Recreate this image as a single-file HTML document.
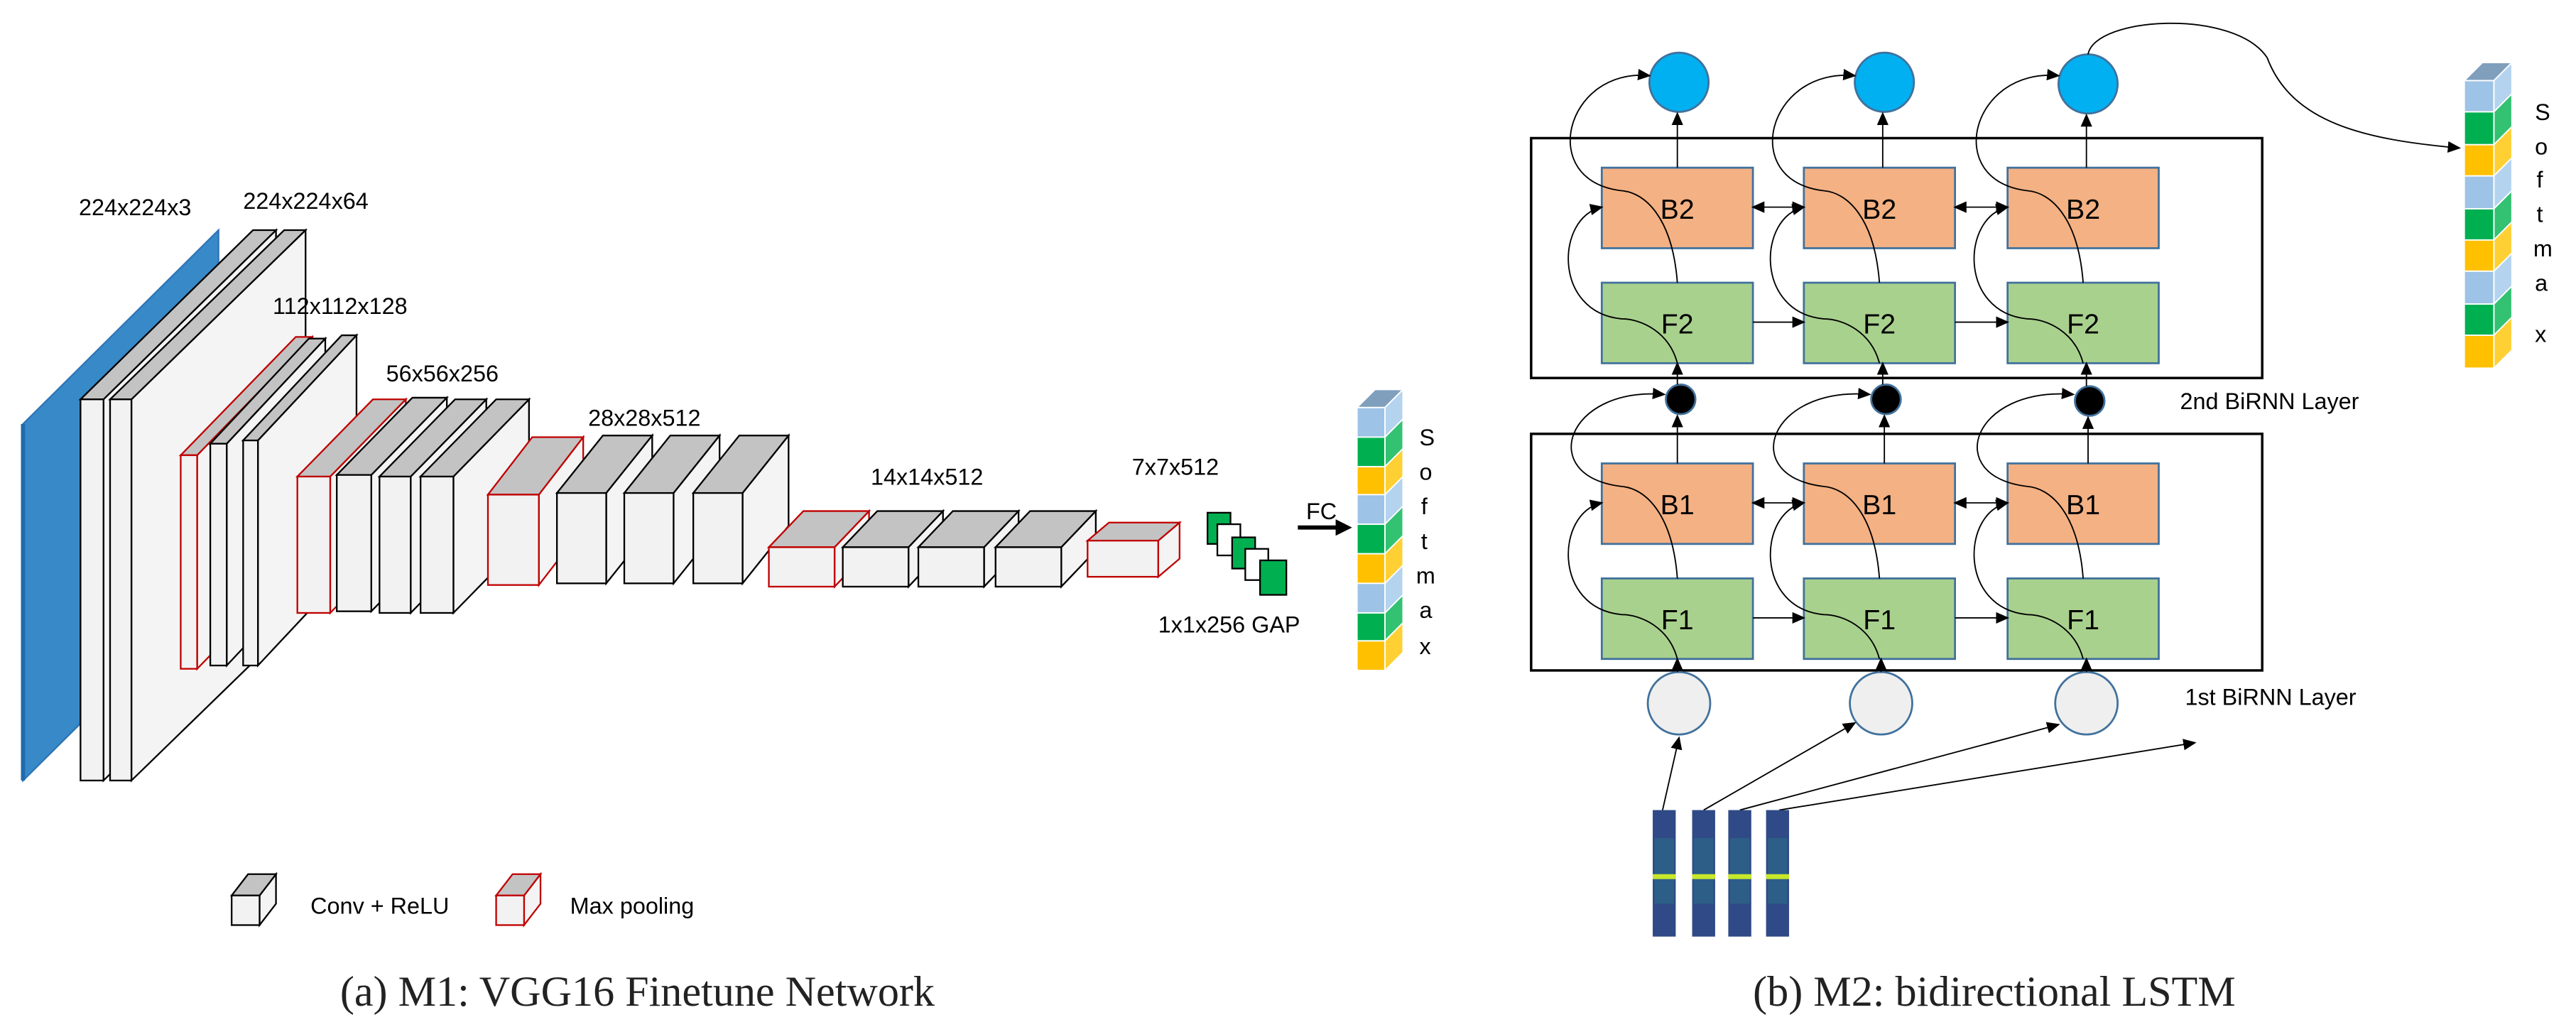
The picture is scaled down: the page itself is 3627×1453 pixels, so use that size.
<!DOCTYPE html>
<html><head><meta charset="utf-8"><style>
html,body{margin:0;padding:0;background:#fff;}
svg{display:block;}
text{font-family:"Liberation Sans",sans-serif;}
</style></head><body>
<svg width="3627" height="1453" viewBox="0 0 1568 628" xmlns="http://www.w3.org/2000/svg">
<defs>
<marker id="ar" markerWidth="8" markerHeight="8" refX="7" refY="4" orient="auto-start-reverse" markerUnits="userSpaceOnUse"><path d="M0,0.5 L8,4 L0,7.5 z" fill="#000"/></marker>
</defs>
<!-- blue slab -->
<polygon points="14,258 133,140 133,357 14,475" fill="#3889c8" stroke="#2e75b6" stroke-width="1"/>
<line x1="14" y1="258" x2="14" y2="475" stroke="#1f6aad" stroke-width="2.5"/>

<g stroke="#000" stroke-width="1">
<!-- 224 slabs -->
<polygon points="63,243 168,140 168,372 63,475" fill="#f4f4f4"/>
<polygon points="49,243 154,140 168,140 63,243" fill="#c3c3c3"/>
<rect x="49" y="243" width="14" height="232" fill="#f2f2f2"/>
<polygon points="80,243 186,140 186,372 80,475" fill="#f4f4f4"/>
<polygon points="67,243 173,140 186,140 80,243" fill="#c3c3c3"/>
<rect x="67" y="243" width="13" height="232" fill="#f2f2f2"/>
</g>
<g stroke="#c00000" stroke-width="1">
<polygon points="120,277 190,205 190,335 120,407" fill="#f4f4f4"/>
<polygon points="110,277 180,205 190,205 120,277" fill="#c3c3c3"/>
<rect x="110" y="277" width="10" height="130" fill="#f2f2f2"/>
</g>
<g stroke="#000" stroke-width="1">
<polygon points="138,270 198,206 198,341 138,405" fill="#f4f4f4"/>
<polygon points="128,270 188,206 198,206 138,270" fill="#c3c3c3"/>
<rect x="128" y="270" width="10" height="135" fill="#f2f2f2"/>
<polygon points="157,268 217,204 217,341 157,405" fill="#f4f4f4"/>
<polygon points="148,268 208,204 217,204 157,268" fill="#c3c3c3"/>
<rect x="148" y="268" width="9" height="137" fill="#f2f2f2"/>
</g>
<g stroke="#c00000" stroke-width="1">
<polygon points="201,290 247,243 247,326 201,373" fill="#f4f4f4"/>
<polygon points="181,290 227,243 247,243 201,290" fill="#c3c3c3"/>
<rect x="181" y="290" width="20" height="83" fill="#f2f2f2"/>
</g>
<g stroke="#000" stroke-width="1">
<polygon points="226,289 272,242 272,325 226,372" fill="#f4f4f4"/>
<polygon points="205,289 251,242 272,242 226,289" fill="#c3c3c3"/>
<rect x="205" y="289" width="21" height="83" fill="#f2f2f2"/>
<polygon points="250,290 296,243 296,326 250,373" fill="#f4f4f4"/>
<polygon points="231,290 277,243 296,243 250,290" fill="#c3c3c3"/>
<rect x="231" y="290" width="19" height="83" fill="#f2f2f2"/>
<polygon points="276,290 322,243 322,326 276,373" fill="#f4f4f4"/>
<polygon points="256,290 302,243 322,243 276,290" fill="#c3c3c3"/>
<rect x="256" y="290" width="20" height="83" fill="#f2f2f2"/>
</g>
<g stroke="#c00000" stroke-width="1">
<polygon points="328,301 355,266 355,321 328,356" fill="#f4f4f4"/>
<polygon points="297,301 324,266 355,266 328,301" fill="#c3c3c3"/>
<rect x="297" y="301" width="31" height="55" fill="#f2f2f2"/>
</g>
<g stroke="#000" stroke-width="1">
<polygon points="369,300 397,265 397,320 369,355" fill="#f4f4f4"/>
<polygon points="339,300 367,265 397,265 369,300" fill="#c3c3c3"/>
<rect x="339" y="300" width="30" height="55" fill="#f2f2f2"/>
<polygon points="410,300 438,265 438,320 410,355" fill="#f4f4f4"/>
<polygon points="380,300 408,265 438,265 410,300" fill="#c3c3c3"/>
<rect x="380" y="300" width="30" height="55" fill="#f2f2f2"/>
<polygon points="452,300 480,265 480,320 452,355" fill="#f4f4f4"/>
<polygon points="422,300 450,265 480,265 452,300" fill="#c3c3c3"/>
<rect x="422" y="300" width="30" height="55" fill="#f2f2f2"/>
</g>
<g stroke="#c00000" stroke-width="1">
<polygon points="508,333 529,311 529,335 508,357" fill="#f4f4f4"/>
<polygon points="468,333 489,311 529,311 508,333" fill="#c3c3c3"/>
<rect x="468" y="333" width="40" height="24" fill="#f2f2f2"/>
</g>
<g stroke="#000" stroke-width="1">
<polygon points="553,333 574,311 574,335 553,357" fill="#f4f4f4"/>
<polygon points="513,333 534,311 574,311 553,333" fill="#c3c3c3"/>
<rect x="513" y="333" width="40" height="24" fill="#f2f2f2"/>
<polygon points="599,333 620,311 620,335 599,357" fill="#f4f4f4"/>
<polygon points="559,333 580,311 620,311 599,333" fill="#c3c3c3"/>
<rect x="559" y="333" width="40" height="24" fill="#f2f2f2"/>
<polygon points="646,333 667,311 667,335 646,357" fill="#f4f4f4"/>
<polygon points="606,333 627,311 667,311 646,333" fill="#c3c3c3"/>
<rect x="606" y="333" width="40" height="24" fill="#f2f2f2"/>
</g>
<g stroke="#c00000" stroke-width="1">
<polygon points="705,329 718,318 718,340 705,351" fill="#f4f4f4"/>
<polygon points="662,329 675,318 718,318 705,329" fill="#c3c3c3"/>
<rect x="662" y="329" width="43" height="22" fill="#f2f2f2"/>
</g>
<!-- legend cubes -->
<g stroke="#000" stroke-width="1">
<polygon points="158,545 168,532 168,550 158,563" fill="#f4f4f4"/>
<polygon points="141,545 151,532 168,532 158,545" fill="#c3c3c3"/>
<rect x="141" y="545" width="17" height="18" fill="#f2f2f2"/>
</g>
<g stroke="#c00000" stroke-width="1">
<polygon points="319,545 329,532 329,550 319,563" fill="#f4f4f4"/>
<polygon points="302,545 312,532 329,532 319,545" fill="#c3c3c3"/>
<rect x="302" y="545" width="17" height="18" fill="#f2f2f2"/>
</g>

<!-- GAP squares -->
<g stroke="#000" stroke-width="1">
<rect x="735" y="312" width="14" height="19" fill="#00b050"/>
<rect x="741" y="319" width="14" height="19" fill="#fff"/>
<rect x="750" y="327" width="14" height="19" fill="#00b050"/>
<rect x="758" y="334" width="14" height="19" fill="#fff"/>
<rect x="767" y="341" width="16" height="21" fill="#00b050"/>
</g>
<line x1="790" y1="321" x2="815" y2="321" stroke="#000" stroke-width="2.5"/>
<polygon points="813,316 823,321 813,326" fill="#000"/>

<!-- softmax left -->
<g stroke="#fff" stroke-width="0.8">
<polygon points="826,248 837,237 854,237 843,248" fill="#7f9fbd"/>
<polygon points="843,248 854,237 854,255 843,266" fill="#b4d3ee"/><rect x="826" y="248" width="17" height="18" fill="#9dc3e6"/>
<polygon points="843,266 854,255 854,273 843,284" fill="#33c172"/><rect x="826" y="266" width="17" height="18" fill="#00b050"/>
<polygon points="843,284 854,273 854,290 843,301" fill="#ffd033"/><rect x="826" y="284" width="17" height="17" fill="#ffc000"/>
<polygon points="843,301 854,290 854,308 843,319" fill="#b4d3ee"/><rect x="826" y="301" width="17" height="18" fill="#9dc3e6"/>
<polygon points="843,319 854,308 854,326 843,337" fill="#33c172"/><rect x="826" y="319" width="17" height="18" fill="#00b050"/>
<polygon points="843,337 854,326 854,344 843,355" fill="#ffd033"/><rect x="826" y="337" width="17" height="18" fill="#ffc000"/>
<polygon points="843,355 854,344 854,362 843,373" fill="#b4d3ee"/><rect x="826" y="355" width="17" height="18" fill="#9dc3e6"/>
<polygon points="843,373 854,362 854,379 843,390" fill="#33c172"/><rect x="826" y="373" width="17" height="17" fill="#00b050"/>
<polygon points="843,390 854,379 854,397 843,408" fill="#ffd033"/><rect x="826" y="390" width="17" height="18" fill="#ffc000"/>
</g>
<!-- softmax right -->
<g stroke="#fff" stroke-width="0.8">
<polygon points="1500,49 1511,38 1529,38 1518,49" fill="#7f9fbd"/>
<polygon points="1518,49 1529,38 1529,57 1518,68" fill="#b4d3ee"/><rect x="1500" y="49" width="18" height="19" fill="#9dc3e6"/>
<polygon points="1518,68 1529,57 1529,77 1518,88" fill="#33c172"/><rect x="1500" y="68" width="18" height="20" fill="#00b050"/>
<polygon points="1518,88 1529,77 1529,96 1518,107" fill="#ffd033"/><rect x="1500" y="88" width="18" height="19" fill="#ffc000"/>
<polygon points="1518,107 1529,96 1529,116 1518,127" fill="#b4d3ee"/><rect x="1500" y="107" width="18" height="20" fill="#9dc3e6"/>
<polygon points="1518,127 1529,116 1529,135 1518,146" fill="#33c172"/><rect x="1500" y="127" width="18" height="19" fill="#00b050"/>
<polygon points="1518,146 1529,135 1529,154 1518,165" fill="#ffd033"/><rect x="1500" y="146" width="18" height="19" fill="#ffc000"/>
<polygon points="1518,165 1529,154 1529,174 1518,185" fill="#b4d3ee"/><rect x="1500" y="165" width="18" height="20" fill="#9dc3e6"/>
<polygon points="1518,185 1529,174 1529,193 1518,204" fill="#33c172"/><rect x="1500" y="185" width="18" height="19" fill="#00b050"/>
<polygon points="1518,204 1529,193 1529,213 1518,224" fill="#ffd033"/><rect x="1500" y="204" width="18" height="20" fill="#ffc000"/>
</g>

<g font-size="14">
<text x="795" y="316">FC</text>
<text x="864" y="271">S</text><text x="864" y="292">o</text><text x="865" y="313">f</text><text x="865" y="334">t</text><text x="862" y="355">m</text><text x="864" y="376">a</text><text x="864" y="398">x</text>
<text x="1543" y="73">S</text><text x="1543" y="94">o</text><text x="1544" y="114">f</text><text x="1544" y="135">t</text><text x="1542" y="156">m</text><text x="1543" y="177">a</text><text x="1543" y="208">x</text>
<text x="48" y="131">224x224x3</text>
<text x="148" y="127">224x224x64</text>
<text x="166" y="191">112x112x128</text>
<text x="235" y="232">56x56x256</text>
<text x="358" y="259">28x28x512</text>
<text x="530" y="295">14x14x512</text>
<text x="689" y="289">7x7x512</text>
<text x="705" y="385">1x1x256 GAP</text>
<text x="189" y="556">Conv + ReLU</text>
<text x="347" y="556">Max pooling</text>
<text x="1327" y="249">2nd BiRNN Layer</text>
<text x="1330" y="429">1st BiRNN Layer</text>
</g>
<g font-size="26" fill="#222">
<text x="207" y="612" style="font-family:'Liberation Serif',serif">(a) M1: VGG16 Finetune Network</text>
<text x="1067" y="612" style="font-family:'Liberation Serif',serif">(b) M2: bidirectional LSTM</text>
</g>

<!-- RNN outer boxes -->
<g stroke="#000" stroke-width="1.5" fill="none">
<rect x="932" y="84" width="445" height="146"/>
<rect x="932" y="264" width="445" height="144"/>
</g>

<!-- RNN cells -->
<g stroke="#41719c" stroke-width="1.2">
<rect x="975" y="102" width="92" height="49" fill="#f4b183"/>
<rect x="975" y="172" width="92" height="49" fill="#a9d18e"/>
<rect x="975" y="282" width="92" height="49" fill="#f4b183"/>
<rect x="975" y="352" width="92" height="49" fill="#a9d18e"/>
<rect x="1098" y="102" width="92" height="49" fill="#f4b183"/>
<rect x="1098" y="172" width="92" height="49" fill="#a9d18e"/>
<rect x="1098" y="282" width="92" height="49" fill="#f4b183"/>
<rect x="1098" y="352" width="92" height="49" fill="#a9d18e"/>
<rect x="1222" y="102" width="92" height="49" fill="#f4b183"/>
<rect x="1222" y="172" width="92" height="49" fill="#a9d18e"/>
<rect x="1222" y="282" width="92" height="49" fill="#f4b183"/>
<rect x="1222" y="352" width="92" height="49" fill="#a9d18e"/>
<circle cx="1022" cy="50" r="18" fill="#00b0f0"/>
<circle cx="1147" cy="50" r="18" fill="#00b0f0"/>
<circle cx="1271" cy="51" r="18" fill="#00b0f0"/>
<circle cx="1023" cy="243" r="9" fill="#000"/>
<circle cx="1148" cy="243" r="9" fill="#000"/>
<circle cx="1272" cy="244" r="9" fill="#000"/>
<circle cx="1022" cy="428" r="19" fill="#efefef"/>
<circle cx="1145" cy="428" r="19" fill="#efefef"/>
<circle cx="1270" cy="428" r="19" fill="#efefef"/>
</g>
<g font-size="17" text-anchor="middle">
<text x="1021" y="133">B2</text><text x="1021" y="203">F2</text><text x="1021" y="313">B1</text><text x="1021" y="383">F1</text>
<text x="1144" y="133">B2</text><text x="1144" y="203">F2</text><text x="1144" y="313">B1</text><text x="1144" y="383">F1</text>
<text x="1268" y="133">B2</text><text x="1268" y="203">F2</text><text x="1268" y="313">B1</text><text x="1268" y="383">F1</text>
</g>

<g stroke="#000" stroke-width="0.8" fill="none" marker-end="url(#ar)">
<!-- verticals -->
<line x1="1021" y1="102" x2="1021" y2="69"/><line x1="1021" y1="282" x2="1021" y2="253"/><line x1="1021" y1="234" x2="1021" y2="221"/><line x1="1021" y1="409" x2="1021" y2="401"/>
<line x1="1146" y1="102" x2="1146" y2="69"/><line x1="1147" y1="282" x2="1147" y2="253"/><line x1="1146" y1="234" x2="1146" y2="221"/><line x1="1145" y1="409" x2="1145" y2="401"/>
<line x1="1270" y1="102" x2="1270" y2="70"/><line x1="1271" y1="282" x2="1271" y2="254"/><line x1="1270" y1="235" x2="1270" y2="221"/><line x1="1270" y1="409" x2="1270" y2="401"/>
<!-- curves col1 -->
<path d="M1021,221 C1016,202 999,194 987,194 C945,190 947,132 975,126"/>
<path d="M1021,172 C1018,132 1001,117 987,116 C935,110 953,41 1004,46"/>
<path d="M1021,401 C1016,382 999,374 987,374 C945,370 947,312 975,306"/>
<path d="M1021,352 C1018,312 1001,297 987,296 C935,290 953,235 1013,240"/>
<!-- col2 -->
<path d="M1144,221 C1139,202 1122,194 1110,194 C1068,190 1070,132 1098,126"/>
<path d="M1144,172 C1141,132 1124,117 1110,116 C1058,110 1076,41 1129,46"/>
<path d="M1144,401 C1139,382 1122,374 1110,374 C1068,370 1070,312 1098,306"/>
<path d="M1144,352 C1141,312 1124,297 1110,296 C1058,290 1076,235 1138,240"/>
<!-- col3 -->
<path d="M1268,221 C1263,202 1246,194 1234,194 C1192,190 1194,132 1222,126"/>
<path d="M1268,172 C1265,132 1248,117 1234,116 C1182,110 1200,41 1253,46"/>
<path d="M1268,401 C1263,382 1246,374 1234,374 C1192,370 1194,312 1222,306"/>
<path d="M1268,352 C1265,312 1248,297 1234,296 C1182,290 1200,235 1262,240"/>
<!-- horizontals -->
<line x1="1067" y1="196" x2="1098" y2="196"/><line x1="1190" y1="196" x2="1222" y2="196"/>
<line x1="1067" y1="376" x2="1098" y2="376"/><line x1="1190" y1="376" x2="1222" y2="376"/>
<line x1="1067" y1="126" x2="1098" y2="126" marker-start="url(#ar)"/><line x1="1190" y1="126" x2="1222" y2="126" marker-start="url(#ar)"/>
<line x1="1067" y1="306" x2="1098" y2="306" marker-start="url(#ar)"/><line x1="1190" y1="306" x2="1222" y2="306" marker-start="url(#ar)"/>
<!-- long curve -->
<path d="M1271,33 C1275,10 1360,5 1380,35 C1395,75 1440,85 1497,90"/>
<!-- inputs -->
<line x1="1012" y1="493" x2="1022" y2="449"/>
<line x1="1037" y1="493" x2="1129" y2="440"/>
<line x1="1059" y1="493" x2="1253" y2="441"/>
<line x1="1083" y1="493" x2="1336" y2="452"/>
</g>

<!-- spectrogram strips -->
<g>
<rect x="1006" y="493" width="14" height="77" fill="#2f4a86"/><rect x="1007" y="510" width="12" height="40" fill="#2d6d8a" opacity="0.6"/><rect x="1006" y="532" width="14" height="3" fill="#c8e82a"/>
<rect x="1030" y="493" width="14" height="77" fill="#2f4a86"/><rect x="1031" y="510" width="12" height="40" fill="#2d6d8a" opacity="0.6"/><rect x="1030" y="532" width="14" height="3" fill="#c8e82a"/>
<rect x="1052" y="493" width="14" height="77" fill="#2f4a86"/><rect x="1053" y="510" width="12" height="40" fill="#2d6d8a" opacity="0.6"/><rect x="1052" y="532" width="14" height="3" fill="#c8e82a"/>
<rect x="1075" y="493" width="14" height="77" fill="#2f4a86"/><rect x="1076" y="510" width="12" height="40" fill="#2d6d8a" opacity="0.6"/><rect x="1075" y="532" width="14" height="3" fill="#c8e82a"/>
</g>
</svg>
</body></html>
